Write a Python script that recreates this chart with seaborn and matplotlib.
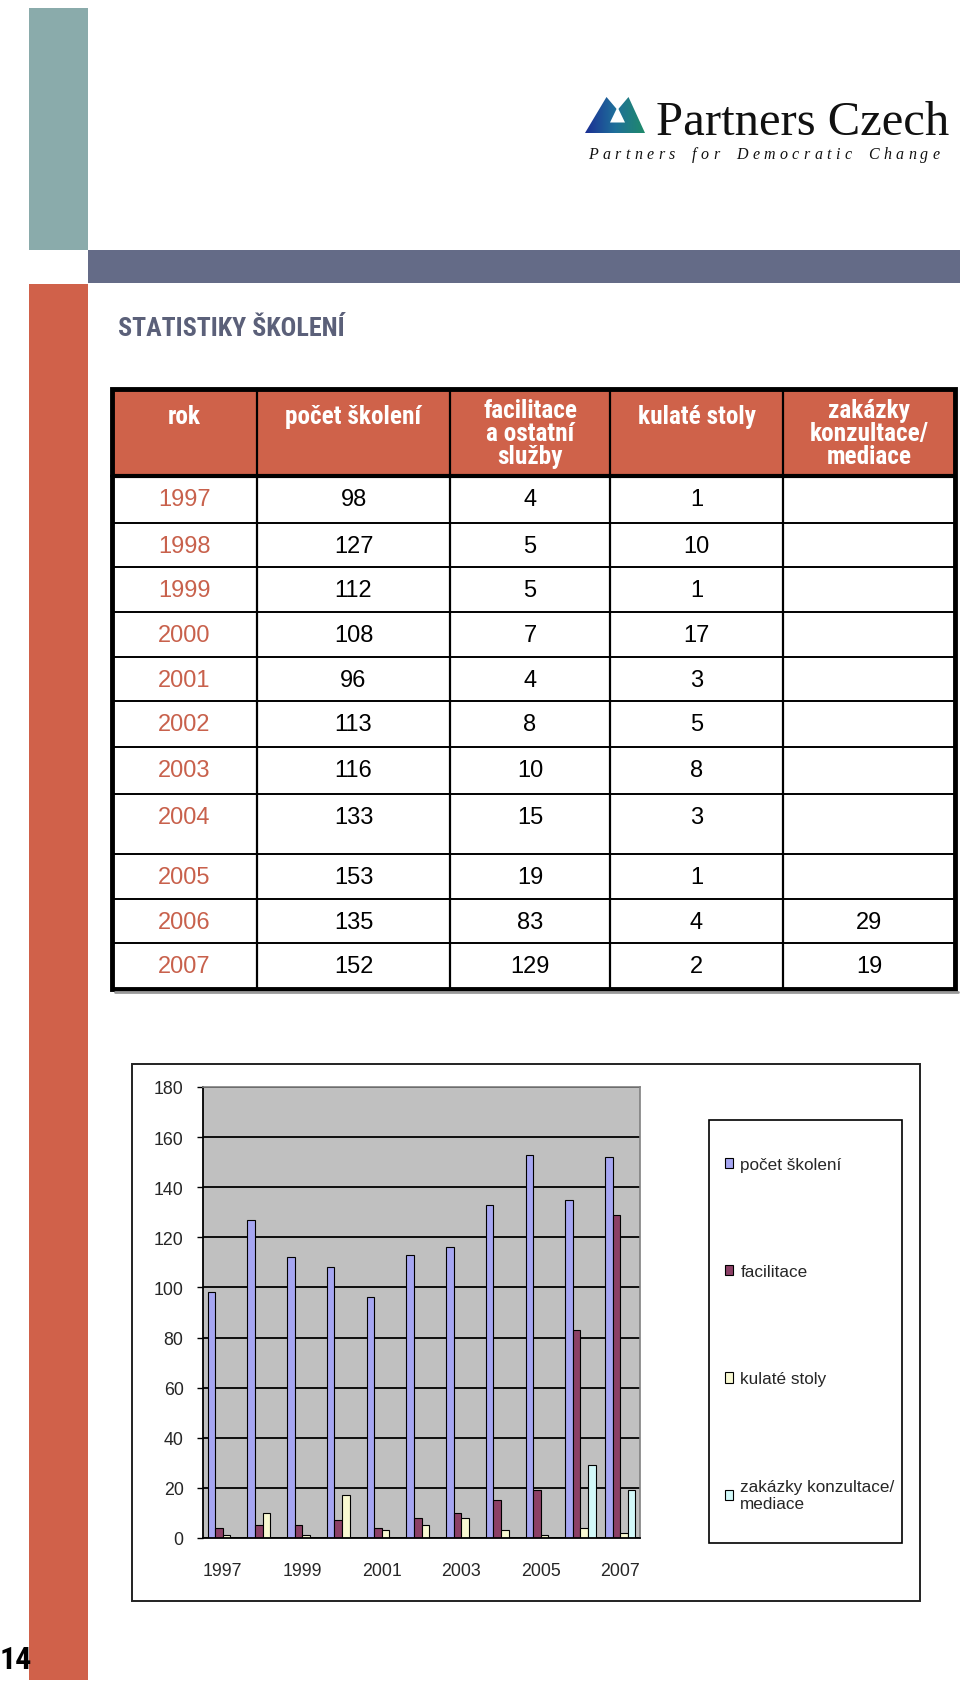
import numpy as np
import pandas as pd
import seaborn as sns
import matplotlib.pyplot as plt
from matplotlib import font_manager
from matplotlib.patches import Rectangle, Polygon
from matplotlib.colors import LinearSegmentedColormap

# data
years = [1997, 1998, 1999, 2000, 2001, 2002, 2003, 2004, 2005, 2006, 2007]
pocet_skoleni = [98, 127, 112, 108, 96, 113, 116, 133, 153, 135, 152]
facilitace = [4, 5, 5, 7, 4, 8, 10, 15, 19, 83, 129]
kulate_stoly = [1, 10, 1, 17, 3, 5, 8, 3, 1, 4, 2]
zakazky = [np.nan] * 9 + [29, 19]

table_headers = ['rok', 'počet školení', 'facilitace\na ostatní\nslužby',
                 'kulaté stoly', 'zakázky\nkonzultace/\nmediace']
series_names = ['počet školení', 'facilitace', 'kulaté stoly',
                'zakázky konzultace/\nmediace']
bar_colors = ['#9999ff', '#993366', '#ffffcc', '#ccffff']

# fonts: look for a condensed face for the headings
entries = font_manager.fontManager.ttflist
installed = {f.name for f in entries}
sans = 'Liberation Sans' if 'Liberation Sans' in installed else 'DejaVu Sans'
serif = 'Liberation Serif' if 'Liberation Serif' in installed else 'DejaVu Serif'

cond = None
for name in ['Liberation Sans Narrow', 'Roboto Condensed', 'Open Sans Condensed',
             'Noto Sans Condensed', 'DejaVu Sans Condensed', 'Arial Narrow']:
    if name in installed:
        cond = dict(family=[name, 'DejaVu Sans'])
        break
if cond is None:
    others = sorted(n for n in installed if 'Condensed' in n or 'Narrow' in n)
    if others:
        cond = dict(family=[others[0], 'DejaVu Sans'])
if cond is None and any(f.name == 'DejaVu Sans' and str(f.stretch) == 'condensed' for f in entries):
    cond = dict(family=['DejaVu Sans'], stretch='condensed')
cscale = 1.0
if cond is None:
    cond = dict(family=[sans, 'DejaVu Sans'])
    cscale = 0.88

sns.set_style('white')
plt.rcParams['font.family'] = [sans, 'DejaVu Sans']

W, H = 960, 1690
fig = plt.figure(figsize=(W / 100, H / 100), dpi=100)

# page layer in pixel coordinates
bg = fig.add_axes([0, 0, 1, 1], zorder=0)
bg.set_xlim(0, W)
bg.set_ylim(H, 0)
bg.axis('off')

teal, slate, orange = '#8aabab', '#646b87', '#d0614a'
bg.add_patch(Rectangle((29, 9), 59, 242, color=teal, lw=0))
bg.add_patch(Rectangle((88, 251), 872, 33, color=slate, lw=0))
bg.add_patch(Rectangle((29, 285), 59, 1396, color=orange, lw=0))
bg.text(0, 1669, '14', fontsize=23 * cscale, fontweight='bold', ha='left',
        va='baseline', color='black', **cond)

# logo
mountain = Polygon([(585, 134), (606.5, 98), (617.5, 111), (628.5, 98), (645, 134)],
                   closed=True, facecolor='none', edgecolor='none')
bg.add_patch(mountain)
grad = np.linspace(0, 1, 100).reshape(1, -1)
logo_cmap = LinearSegmentedColormap.from_list('logo', ['#1b2f94', '#1f6f9a', '#1f8a6a'])
im = bg.imshow(grad, extent=(585, 645, 134, 98), cmap=logo_cmap, aspect='auto', zorder=2)
im.set_clip_path(mountain)
bg.add_patch(Polygon([(617.5, 108), (610, 123.5), (625, 123.5)], closed=True,
                     facecolor='white', edgecolor='none', zorder=3))
bg.text(656, 135, 'Partners Czech', fontsize=35, family=serif, ha='left',
        va='baseline', color='#111111')

# letter-spaced tagline, spread over the logo width
tagline = 'Partners for Democratic Change'
renderer = fig.canvas.get_renderer()
tag_fp = font_manager.FontProperties(family=serif, style='italic', size=11.5)
widths = [renderer.get_text_width_height_descent(c if c != ' ' else 'n', tag_fp, ismath=False)[0]
          for c in tagline]
x0, x1 = 588, 940
track = (x1 - x0 - sum(widths)) / (len(tagline) - 1)
x = x0
for c, w in zip(tagline, widths):
    if c != ' ':
        bg.text(x, 159, c, fontproperties=tag_fp, ha='left', va='baseline', color='#111111')
    x += w + track

# title
bg.text(118, 336, 'STATISTIKY ŠKOLENÍ', fontsize=18.7 * cscale, fontweight='bold',
        color='#5b6079', ha='left', va='baseline', **cond)

# table
col_edges = [112, 257, 450, 610, 783, 955]
row_edges = [477, 524, 568, 613, 658, 702, 748, 795, 855, 900, 944, 990]
head_top = 390
bg.add_patch(Rectangle((col_edges[0], head_top), col_edges[-1] - col_edges[0],
                       row_edges[0] - head_top, facecolor='#cf624a', edgecolor='none'))
for y in row_edges[1:-1]:
    bg.plot([col_edges[0], col_edges[-1]], [y, y], color='black', lw=1.4)
for x in col_edges[1:-1]:
    bg.plot([x, x], [head_top, row_edges[-1]], color='black', lw=1.6)
bg.plot([col_edges[0], col_edges[-1]], [row_edges[0], row_edges[0]], color='black', lw=3)
bg.plot([col_edges[0] + 3, col_edges[-1] + 3], [row_edges[-1] + 3, row_edges[-1] + 3],
        color='#999999', lw=2)
bg.add_patch(Rectangle((col_edges[0], head_top), col_edges[-1] - col_edges[0],
                       row_edges[-1] - head_top, facecolor='none', edgecolor='black', lw=3.5))

centers = [(a + b) / 2 for a, b in zip(col_edges[:-1], col_edges[1:])]
for cx, label in zip(centers, table_headers):
    cy = 434 if '\n' in label else 417
    bg.text(cx, cy, label, fontsize=18.2 * cscale, fontweight='bold', color='white',
            ha='center', va='center', linespacing=0.93 / cscale, **cond)

columns = [pocet_skoleni, facilitace, kulate_stoly, zakazky]
for i, yr in enumerate(years):
    ty = row_edges[i] + 23
    bg.text(centers[0], ty, str(yr), fontsize=17, color='#c8614c', ha='center', va='center')
    for cx, col in zip(centers[1:], columns):
        v = col[i]
        if not pd.isna(v):
            bg.text(cx, ty, str(int(v)), fontsize=17, color='black', ha='center', va='center')

# chart frame and legend frame
bg.add_patch(Rectangle((132, 1065), 788, 537, facecolor='white', edgecolor='#222222', lw=1.4))
bg.add_patch(Rectangle((709, 1121), 193, 423, facecolor='white', edgecolor='black', lw=1.2))

# bar chart
df = pd.DataFrame({'rok': years,
                   series_names[0]: pocet_skoleni,
                   series_names[1]: facilitace,
                   series_names[2]: kulate_stoly,
                   series_names[3]: zakazky})
long = df.melt(id_vars='rok', var_name='řada', value_name='počet')

left, right, top, bottom = 203, 640, 1088, 1539
ax = fig.add_axes([left / W, 1 - bottom / H, (right - left) / W, (bottom - top) / H], zorder=2)
sns.barplot(data=long, x='rok', y='počet', hue='řada', hue_order=series_names,
            palette=bar_colors, width=0.76, edgecolor='black', linewidth=0.8,
            errorbar=None, ax=ax)
ax.set_facecolor('#c0c0c0')
ax.set_ylim(0, 180)
ax.set_xlim(-0.5, len(years) - 0.5)
ax.set_yticks(range(0, 181, 20))
ax.yaxis.grid(True, color='black', lw=1.3)
ax.set_axisbelow(True)
ax.set_xlabel('')
ax.set_ylabel('')
ax.set_xticks(range(len(years)))
ax.set_xticklabels([str(y) if i % 2 == 0 else '' for i, y in enumerate(years)])
ax.set_xticks(np.arange(-0.5, len(years), 1), minor=True)
ax.tick_params(axis='x', which='major', length=0, pad=17, labelsize=12.8)
ax.tick_params(axis='x', which='minor', length=4, width=1, color='black', direction='out')
ax.tick_params(axis='y', length=4, width=1, color='black', direction='out', pad=10,
               labelsize=12.8, left=True)
for side in ['left', 'bottom']:
    ax.spines[side].set_color('black')
    ax.spines[side].set_linewidth(1.3)
for side in ['top', 'right']:
    ax.spines[side].set_color('#808080')
    ax.spines[side].set_linewidth(1.2)

handles, labels = ax.get_legend_handles_labels()
ax.get_legend().remove()
leg = fig.legend(handles, labels, loc='upper left', bbox_to_anchor=(725 / W, 1 - 1158 / H),
                 frameon=False, fontsize=12.3, handlelength=0.45, handleheight=0.55,
                 handletextpad=0.45, labelspacing=5.4, borderpad=0, borderaxespad=0)
for t in leg.get_texts():
    t.set_linespacing(1.2)

fig.savefig('out.png', dpi=100)
